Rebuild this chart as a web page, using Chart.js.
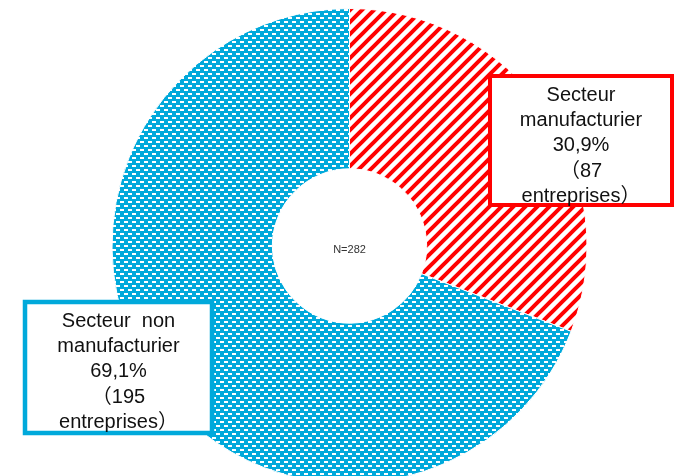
<!DOCTYPE html>
<html>
<head>
<meta charset="utf-8">
<script src="https://cdn.jsdelivr.net/npm/chart.js@4.4.1/dist/chart.umd.min.js"></script>
<style>
  html, body { margin: 0; padding: 0; background: #fff; overflow: hidden; }
  #wrap { width: 674px; height: 476px; overflow: hidden; position: relative; }
</style>
</head>
<body>
<div id="wrap"><canvas id="pie" width="674" height="500"></canvas></div>
<script>
// data
const categories = ['Secteur manufacturier', 'Secteur non manufacturier'];
const labelLines = [['Secteur', 'manufacturier'], ['Secteur  non', 'manufacturier']];
const counts = [87, 195];
const percents = ['30,9%', '69,1%'];
const totalLabel = 'N=282';

const RED = '#ff0000';
const BLUE = '#00a9db';

// hatch fills, like the original office chart
function stripePattern() {
    const s = 12;
    const c = document.createElement('canvas');
    c.width = s; c.height = s;
    const g = c.getContext('2d');
    g.strokeStyle = RED;
    g.lineWidth = 4;
    g.beginPath();
    g.moveTo(-s / 2, s / 2); g.lineTo(s / 2, -s / 2);
    g.moveTo(0, s); g.lineTo(s, 0);
    g.moveTo(s / 2, s * 1.5); g.lineTo(s * 1.5, s / 2);
    g.stroke();
    return g.createPattern(c, 'repeat');
}

function brickPattern() {
    const c = document.createElement('canvas');
    c.width = 8; c.height = 8;
    const g = c.getContext('2d');
    g.fillStyle = BLUE;
    g.fillRect(0, 0, 8, 8);
    g.fillStyle = '#fff';
    g.fillRect(0, 1, 4, 2);
    g.fillRect(4, 5, 4, 2);
    return g.createPattern(c, 'repeat');
}

// label boxes + center text
const boxes = [
    { x: 490, y: 76, w: 182, h: 129, color: RED, lw: 4 },
    { x: 25, y: 302, w: 187, h: 131, color: BLUE, lw: 4.5 }
];

const labelPlugin = {
    id: 'labelBoxes',
    afterDraw(chart) {
        const ctx = chart.ctx;
        const arc = chart.getDatasetMeta(0).data[0];
        ctx.save();
        ctx.fillStyle = '#333';
        ctx.font = '11px "Liberation Sans", Arial, sans-serif';
        ctx.textAlign = 'center';
        ctx.textBaseline = 'middle';
        ctx.fillText(totalLabel, arc.x, arc.y + 4);

        boxes.forEach((b, i) => {
            ctx.fillStyle = '#fff';
            ctx.fillRect(b.x, b.y, b.w, b.h);
            ctx.strokeStyle = b.color;
            ctx.lineWidth = b.lw;
            ctx.strokeRect(b.x, b.y, b.w, b.h);

            const lines = labelLines[i].concat([percents[i], '\uFF08' + counts[i], 'entreprises\uFF09']);
            ctx.fillStyle = '#111';
            ctx.font = '20px "Liberation Sans", Arial, "Noto Sans CJK JP", sans-serif';
            ctx.textBaseline = 'alphabetic';
            const cx = b.x + b.w / 2;
            lines.forEach((t, k) => {
                ctx.fillText(t, cx, b.y + 25 + k * 25.2);
            });
        });
        ctx.restore();
    }
};

const ctx = document.getElementById('pie').getContext('2d');
new Chart(ctx, {
    type: 'doughnut',
    data: {
        labels: categories,
        datasets: [{
            data: counts,
            backgroundColor: [stripePattern(), brickPattern()],
            borderColor: '#fff',
            borderWidth: 1
        }]
    },
    options: {
        responsive: false,
        animation: false,
        cutout: '32.5%',
        layout: { padding: { left: 111, right: 86, top: 8, bottom: 16 } },
        plugins: {
            legend: { display: false },
            tooltip: { enabled: false }
        }
    },
    plugins: [labelPlugin]
});
</script>
</body>
</html>
